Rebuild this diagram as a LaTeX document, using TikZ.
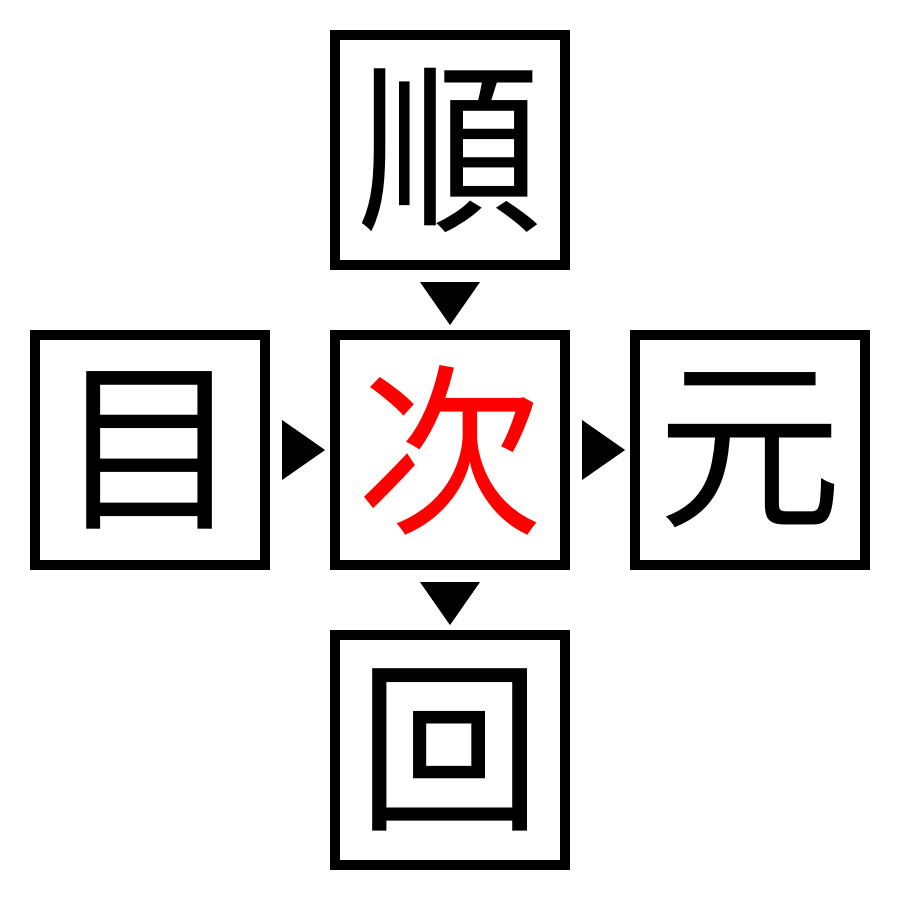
\documentclass[tikz,border=0pt]{standalone}
\usepackage{fontspec}
\newfontfamily\cjk{Noto Sans CJK JP}
\begin{document}
\begin{tikzpicture}[x=1pt,y=-1pt,
  charbox/.style={draw=black,line width=10pt,minimum size=230pt,inner sep=0pt,font=\cjk\fontsize{185}{185}\selectfont},
  tri/.style={fill=black,draw=none}]
\useasboundingbox (0,0) rectangle (900,900);
\node[charbox] (top) at (450,150) {順};
\node[charbox] (left) at (150,450) {目};
\node[charbox,text=red] (mid) at (450,450) {次};
\node[charbox] (right) at (750,450) {元};
\node[charbox] (bot) at (450,750) {回};
\coordinate (t1) at (450,282);
\fill[tri] (t1) ++(-30,0) -- ++(60,0) -- ++(-30,43) -- cycle;
\coordinate (t2) at (450,582);
\fill[tri] (t2) ++(-30,0) -- ++(60,0) -- ++(-30,43) -- cycle;
\coordinate (t3) at (282,450);
\fill[tri] (t3) ++(0,-30) -- ++(0,60) -- ++(43,-30) -- cycle;
\coordinate (t4) at (582,450);
\fill[tri] (t4) ++(0,-30) -- ++(0,60) -- ++(43,-30) -- cycle;
\end{tikzpicture}
\end{document}
